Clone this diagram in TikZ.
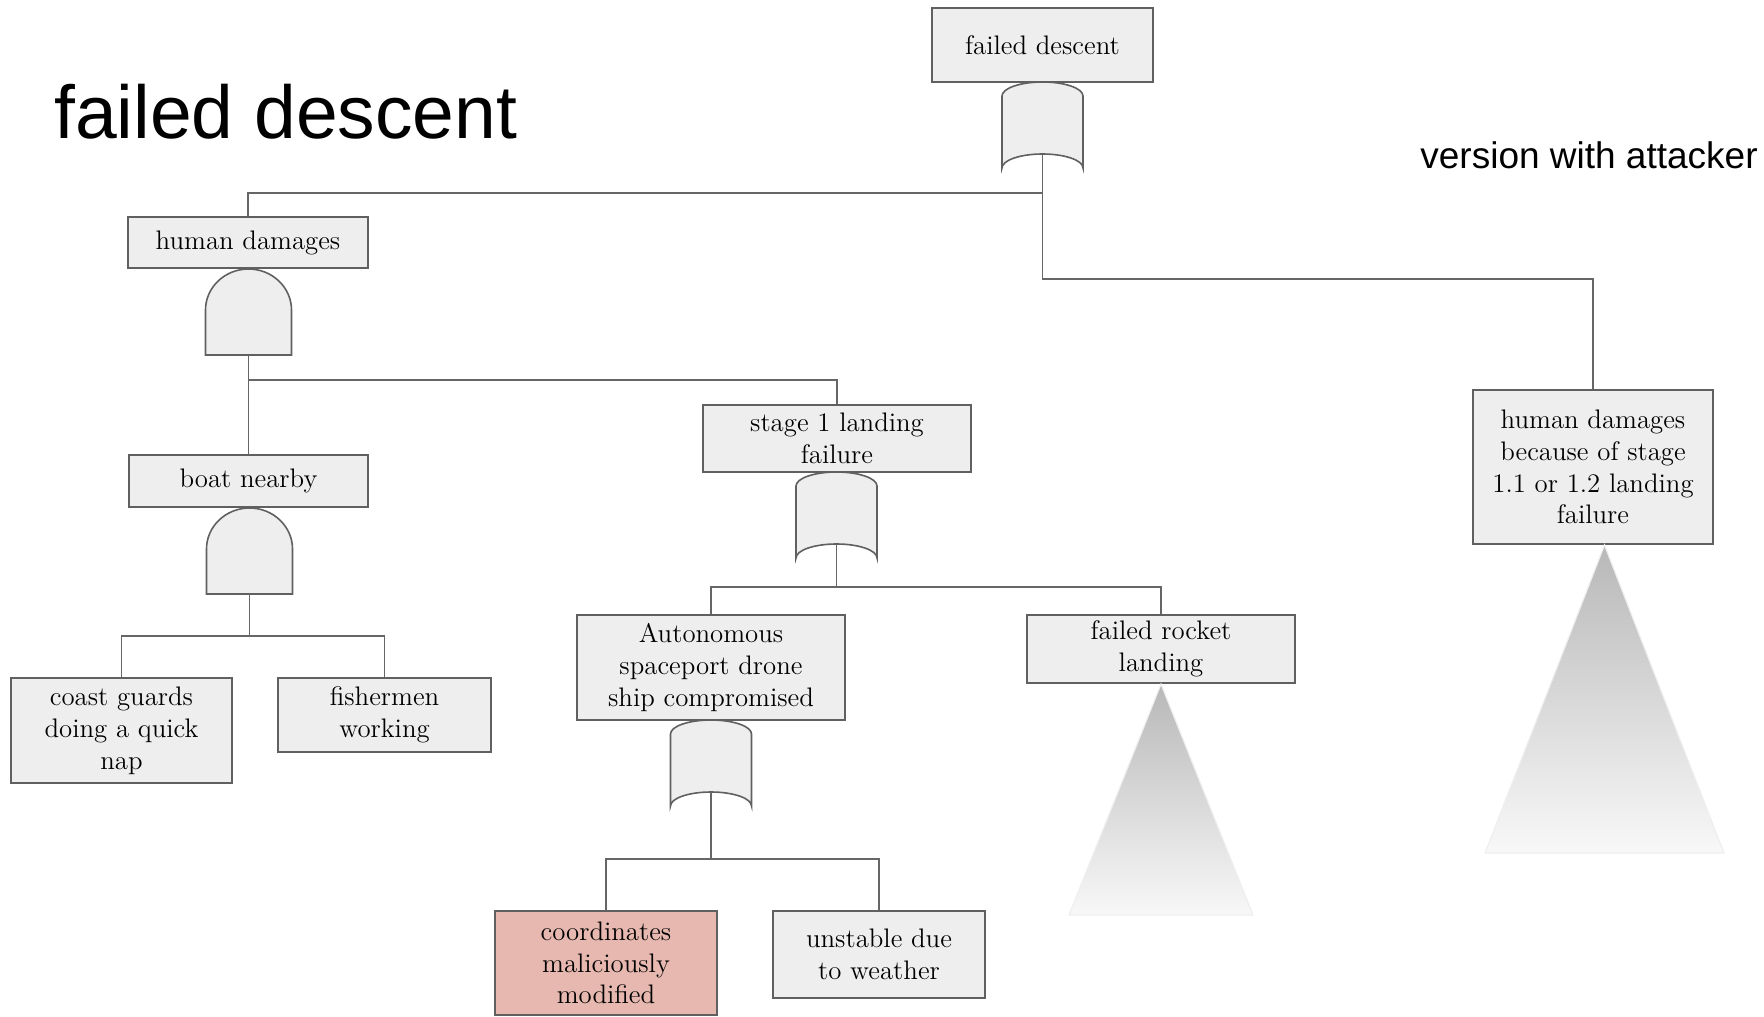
\documentclass[tikz,border=0pt]{standalone}
\usepackage{fontspec}
\setsansfont{Liberation Sans}
\definecolor{boxgray}{HTML}{EEEEEE}
\definecolor{edgegray}{HTML}{606060}
\definecolor{wiregray}{HTML}{666666}
\definecolor{attackred}{HTML}{E6B8AF}
\definecolor{tritop}{HTML}{B8B8B8}
\definecolor{tribot}{HTML}{F8F8F8}
\definecolor{triedge}{HTML}{EFEFEF}
\newcommand\eventfont{\fontsize{13.4}{15.9}\selectfont}
\tikzset{
  event/.style={draw=edgegray, fill=boxgray, line width=0.8pt, inner sep=0pt,
    align=center, font=\eventfont, text=black},
  attacked/.style={event, fill=attackred},
  wire/.style={draw=wiregray, line width=0.9pt},
  gatebody/.style={draw=edgegray, fill=boxgray, line width=0.8pt},
  % OR gate: curved top, concave bottom; -in is top centre, -out is bottom centre
  orgate/.pic={
    \path[gatebody] (-40.5,14) .. controls (-40.5,6.3) and (-22.4,0) .. (0,0)
      .. controls (22.4,0) and (40.5,6.3) .. (40.5,14) -- (40.5,86)
      .. controls (40.5,78.3) and (22.4,72) .. (0,72)
      .. controls (-22.4,72) and (-40.5,78.3) .. (-40.5,86) -- cycle;
    \coordinate (-in) at (0,0);
    \coordinate (-out) at (0,72);
  },
  % AND gate: rounded top, flat bottom
  andgate/.pic={
    \path[gatebody] (-43,86) -- (-43,41) .. controls (-43,18.4) and (-23.7,0) .. (0,0)
      .. controls (23.7,0) and (43,18.4) .. (43,41) -- (43,86) -- cycle;
    \coordinate (-in) at (0,0);
    \coordinate (-out) at (0,86);
  },
  undev/.style={draw=triedge, line width=0.6pt, top color=tritop, bottom color=tribot}
}
\begin{document}
\begin{tikzpicture}[x=0.5pt, y=-0.5pt]
\useasboundingbox (0,0) rectangle (1764,1016);

% headings
\node[anchor=base west, inner sep=0pt, font=\sffamily\fontsize{37.5}{40}\selectfont] (title) at (54,139) {failed descent};
\node[anchor=base west, inner sep=0pt, font=\sffamily\fontsize{18.5}{20}\selectfont] (variant) at (1420,169) {version with attacker};

% events
\node[event, minimum width=110.5pt, minimum height=37pt] (top) at (1042.5,45) {failed descent};
\node[event, minimum width=120pt, minimum height=25.5pt] (hd) at (248,242.5) {human damages};
\node[event, minimum width=134pt, minimum height=33.5pt] (s1) at (837,438.5) {stage 1 landing\\failure};
\node[event, minimum width=119.5pt, minimum height=26pt] (boat) at (248.5,481) {boat nearby};
\node[event, minimum width=110.5pt, minimum height=52.5pt] (coast) at (121.5,730.5) {coast guards\\doing a quick\\nap};
\node[event, minimum width=106.5pt, minimum height=37pt] (fish) at (384.5,715) {fishermen\\working};
\node[event, minimum width=134pt, minimum height=52.5pt] (auto) at (711,667.5) {Autonomous\\spaceport drone\\ship compromised};
\node[event, minimum width=134pt, minimum height=34pt] (rocket) at (1161,649) {failed rocket\\landing};
\node[attacked, minimum width=111pt, minimum height=52pt] (coord) at (606,963) {coordinates\\maliciously\\modified};
\node[event, minimum width=106pt, minimum height=43.5pt] (unstable) at (879,954.5) {unstable due\\to weather};
\node[event, minimum width=120pt, minimum height=77pt] (hdb) at (1593,467) {human damages\\because of stage\\1.1 or 1.2 landing\\failure};

% undeveloped (transfer) triangles
\path[undev] (1161,684) -- (1253,915) -- (1069,915) -- cycle;
\path[undev] (1604.5,545) -- (1724,853) -- (1485,853) -- cycle;

% gates
\pic (g1) at (1042.5,82) {orgate};
\pic (g2) at (248.5,269) {andgate};
\pic (g3) at (249.5,508) {andgate};
\pic (g4) at (836.5,472) {orgate};
\pic (g5) at (711,720) {orgate};

% junctions
\coordinate (j1) at (1042.5,193);
\coordinate (j2) at (1042.5,279);
\coordinate (j3) at (248.5,380);
\coordinate (j4) at (249.5,636);
\coordinate (j5) at (836.5,587);
\coordinate (j6) at (711,859);

% connectors
\draw[wire] (g1-out) -- (j1) -| (hd.north);
\draw[wire] (j1) -- (j2) -| (hdb.north);
\draw[wire] (g2-out) -- (j3) -| (s1.north);
\draw[wire] (j3) -- (j3 |- boat.north);
\draw[wire] (g3-out) -- (j4) -| (coast.north);
\draw[wire] (j4) -| (fish.north);
\draw[wire] (g4-out) -- (j5) -| (auto.north);
\draw[wire] (j5) -| (rocket.north);
\draw[wire] (g5-out) -- (j6) -| (coord.north);
\draw[wire] (j6) -| (unstable.north);
\end{tikzpicture}
\end{document}
